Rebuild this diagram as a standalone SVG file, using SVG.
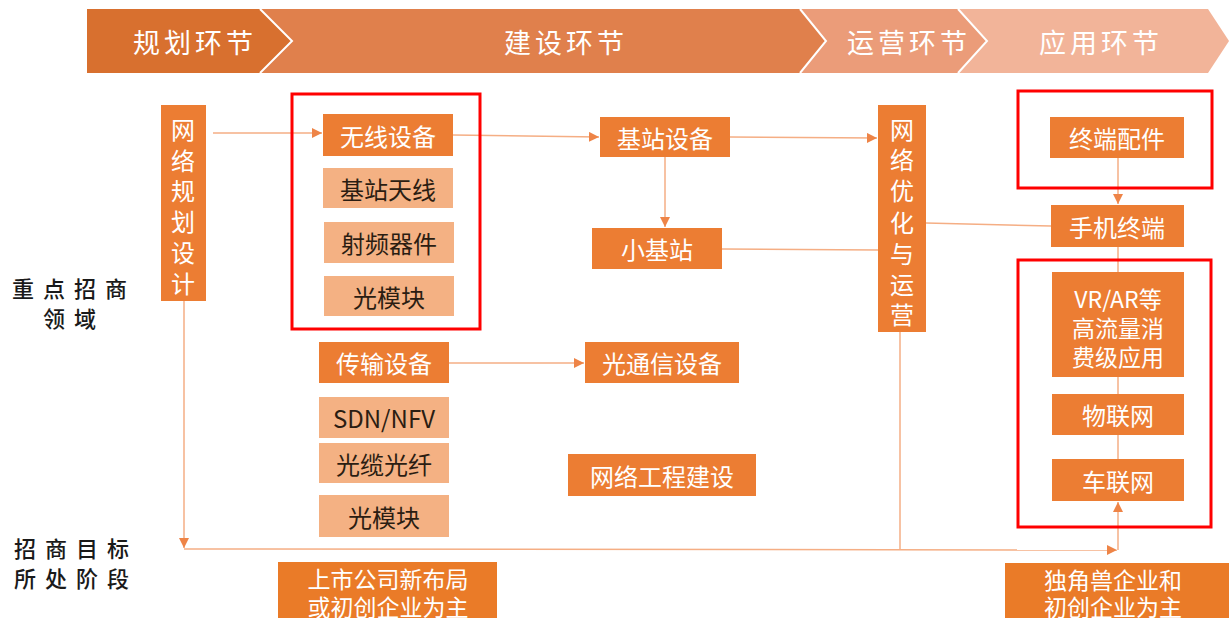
<svg xmlns="http://www.w3.org/2000/svg" width="1229" height="618" viewBox="0 0 1229 618">
<defs>
<style>
.dk{fill:#EC7D33}
.lt{fill:#F4B183}
.wt{font-family:"Noto Sans CJK SC","Noto Sans",sans-serif;font-size:24px;fill:#ffffff;text-anchor:middle;dominant-baseline:central}
.ml{font-size:23px}
.bt{font-family:"Noto Sans CJK SC","Noto Sans",sans-serif;font-size:24px;fill:#2b1d12;text-anchor:middle;dominant-baseline:central}
.hd{font-family:"Noto Sans CJK SC",sans-serif;font-size:27px;fill:#ffffff;text-anchor:middle;dominant-baseline:central;letter-spacing:4px}
.lb{font-family:"Noto Sans CJK SC",sans-serif;font-size:22px;font-weight:500;fill:#1a1a1a;dominant-baseline:central;letter-spacing:9px}
.ln{fill:none;stroke:#F5AE84;stroke-width:1.5}
.red{fill:none;stroke:#FF0000;stroke-width:3}
.sep{fill:none;stroke:#ffffff;stroke-width:2}
</style>
<marker id="ah" viewBox="0 0 10 10" refX="10" refY="5" markerWidth="10" markerHeight="10" markerUnits="userSpaceOnUse" orient="auto">
<path d="M0,0 L10,5 L0,10 z" fill="#EE8447"/>
</marker>
</defs>
<rect width="1229" height="618" fill="#ffffff"/>

<g id="header">
<polygon points="958,9 1208,9 1229,41 1208,73 958,73" fill="#F2B499"/>
<polygon points="800,9 958,9 987,41 958,73 800,73" fill="#EB9C79"/>
<polygon points="260,9 800,9 826,41 800,73 260,73" fill="#E0804C"/>
<polygon points="87,9 260,9 292,41 260,73 87,73" fill="#D8702F"/>
<polyline class="sep" points="260,9 292,41 260,73"/>
<polyline class="sep" points="800,9 826,41 800,73"/>
<polyline class="sep" points="958,9 987,41 958,73"/>
<text class="hd" x="195" y="41">规划环节</text>
<text class="hd" x="566" y="41">建设环节</text>
<text class="hd" x="909" y="41">运营环节</text>
<text class="hd" x="1101" y="41">应用环节</text>
</g>

<g id="row-labels">
<text class="lb" x="12" y="287">重点招商</text>
<text class="lb" x="43" y="317">领域</text>
<text class="lb" x="14" y="547">招商目标</text>
<text class="lb" x="14" y="577">所处阶段</text>
</g>

<g id="connectors">
<line class="ln" x1="213" y1="133" x2="322" y2="133" marker-end="url(#ah)"/>
<line class="ln" x1="453" y1="135" x2="599" y2="137" marker-end="url(#ah)"/>
<line class="ln" x1="730" y1="137" x2="877" y2="138" marker-end="url(#ah)"/>
<line class="ln" x1="665" y1="157" x2="665" y2="227" marker-end="url(#ah)"/>
<line class="ln" x1="722" y1="249" x2="878" y2="250"/>
<line class="ln" x1="926" y1="223" x2="1051" y2="226"/>
<line class="ln" x1="1118" y1="158" x2="1118" y2="204" marker-end="url(#ah)"/>
<line class="ln" x1="1118" y1="247" x2="1118" y2="277"/>
<line class="ln" x1="1118" y1="377" x2="1118" y2="394"/>
<line class="ln" x1="1118" y1="435" x2="1118" y2="459"/>
<line class="ln" x1="1118" y1="550" x2="1118" y2="502" marker-end="url(#ah)"/>
<line class="ln" x1="449" y1="363" x2="584" y2="363" marker-end="url(#ah)"/>
<line class="ln" x1="184" y1="301" x2="184" y2="548" marker-end="url(#ah)"/>
<line class="ln" x1="184" y1="549" x2="1117" y2="550" marker-end="url(#ah)"/>
<line class="ln" x1="900" y1="332" x2="900" y2="550"/>
</g>

<g id="box-wireless-group"><rect class="red" x="292" y="94" width="188" height="235"/></g>
<g id="box-terminal-acc"><rect class="red" x="1018" y="91" width="194" height="97"/></g>
<g id="box-apps"><rect class="red" x="1018" y="260" width="193" height="267"/></g>

<g id="n-plan">
<rect class="dk" x="161" y="105" width="45" height="196"/>
<text class="wt"><tspan x="183" y="128">网</tspan><tspan x="183" y="159">络</tspan><tspan x="183" y="189">规</tspan><tspan x="183" y="220">划</tspan><tspan x="183" y="251">设</tspan><tspan x="183" y="282">计</tspan></text>
</g>
<g id="n-wireless"><rect class="dk" x="323" y="114" width="130" height="42"/><text class="wt" x="388" y="135">无线设备</text></g>
<g id="n-antenna"><rect class="lt" x="323" y="168" width="130" height="40"/><text class="bt" x="388" y="188">基站天线</text></g>
<g id="n-rf"><rect class="lt" x="324" y="222" width="130" height="41"/><text class="bt" x="389" y="242">射频器件</text></g>
<g id="n-optmod1"><rect class="lt" x="324" y="276" width="130" height="40"/><text class="bt" x="389" y="296">光模块</text></g>
<g id="n-bs"><rect class="dk" x="600" y="117" width="130" height="40"/><text class="wt" x="665" y="137">基站设备</text></g>
<g id="n-small"><rect class="dk" x="592" y="228" width="130" height="41"/><text class="wt" x="657" y="248">小基站</text></g>
<g id="n-ops">
<rect class="dk" x="878" y="105" width="48" height="227"/>
<text class="wt"><tspan x="902" y="128">网</tspan><tspan x="902" y="158">络</tspan><tspan x="902" y="189">优</tspan><tspan x="902" y="221">化</tspan><tspan x="902" y="252">与</tspan><tspan x="902" y="283">运</tspan><tspan x="902" y="313">营</tspan></text>
</g>
<g id="n-trans"><rect class="dk" x="319" y="342" width="130" height="41"/><text class="wt" x="384" y="362">传输设备</text></g>
<g id="n-sdn"><rect class="lt" x="319" y="397" width="130" height="41"/><text class="bt" x="384" y="417">SDN/NFV</text></g>
<g id="n-fiber"><rect class="lt" x="319" y="443" width="130" height="40"/><text class="bt" x="384" y="463">光缆光纤</text></g>
<g id="n-optmod2"><rect class="lt" x="319" y="495" width="130" height="42"/><text class="bt" x="384" y="516">光模块</text></g>
<g id="n-optcom"><rect class="dk" x="585" y="342" width="154" height="41"/><text class="wt" x="662" y="362">光通信设备</text></g>
<g id="n-eng"><rect class="dk" x="568" y="454" width="188" height="42"/><text class="wt" x="662" y="475">网络工程建设</text></g>
<g id="n-acc"><rect class="dk" x="1050" y="117" width="134" height="41"/><text class="wt" x="1117" y="137">终端配件</text></g>
<g id="n-phone"><rect class="dk" x="1051" y="205" width="133" height="42"/><text class="wt" x="1117" y="226">手机终端</text></g>
<g id="n-vr"><rect class="dk" x="1052" y="272" width="132" height="105"/>
<text class="wt ml" x="1118" y="298">VR/AR等</text>
<text class="wt ml" x="1118" y="327">高流量消</text>
<text class="wt ml" x="1118" y="356">费级应用</text></g>
<g id="n-iot"><rect class="dk" x="1052" y="394" width="132" height="41"/><text class="wt" x="1118" y="414">物联网</text></g>
<g id="n-iov"><rect class="dk" x="1052" y="459" width="132" height="42"/><text class="wt" x="1118" y="480">车联网</text></g>
<g id="n-stage1"><rect fill="#EA7B28" x="278" y="562" width="219" height="56"/>
<text class="wt ml" x="388" y="578">上市公司新布局</text>
<text class="wt ml" x="388" y="606">或初创企业为主</text></g>
<g id="n-stage2"><rect fill="#EA7B28" x="1005" y="563" width="224" height="55"/>
<text class="wt ml" x="1113" y="579">独角兽企业和</text>
<text class="wt ml" x="1113" y="606">初创企业为主</text></g>
</svg>
